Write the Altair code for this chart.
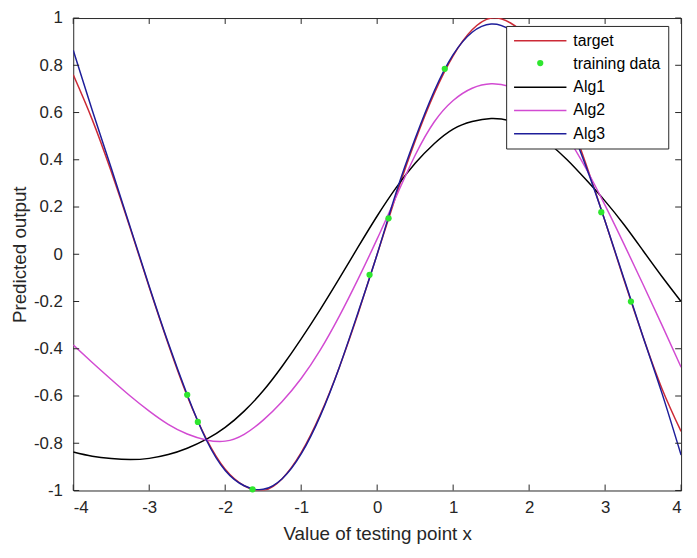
import altair as alt
import pandas as pd

# ---------------- data ----------------
x_grid = [-4.0, -3.75, -3.5, -3.25, -3.0, -2.75, -2.5, -2.25, -2.0, -1.75, -1.5,
          -1.25, -1.0, -0.75, -0.5, -0.25, 0.0, 0.25, 0.5, 0.75, 1.0, 1.25, 1.5,
          1.75, 2.0, 2.25, 2.5, 2.75, 3.0, 3.25, 3.5, 3.75, 4.0]

target = [0.76, 0.57, 0.35, 0.11, -0.14, -0.38, -0.60, -0.78, -0.91, -0.98, -1.00,
          -0.95, -0.84, -0.68, -0.48, -0.25, 0.00, 0.25, 0.48, 0.68, 0.84, 0.95, 1.00,
          0.98, 0.91, 0.78, 0.60, 0.38, 0.14, -0.11, -0.35, -0.57, -0.75]

alg1 = [-0.837, -0.855, -0.865, -0.869, -0.864, -0.848, -0.821, -0.784, -0.733, -0.664, -0.578,
        -0.474, -0.358, -0.234, -0.103, 0.031, 0.162, 0.282, 0.385, 0.468, 0.53, 0.562, 0.575,
        0.565, 0.53, 0.472, 0.40, 0.315, 0.225, 0.125, 0.015, -0.095, -0.20]

alg2 = [-0.384, -0.458, -0.53, -0.60, -0.664, -0.72, -0.761, -0.786, -0.791, -0.762, -0.702,
        -0.623, -0.526, -0.406, -0.263, -0.104, 0.065, 0.244, 0.419, 0.56, 0.651, 0.703, 0.722,
        0.71, 0.672, 0.602, 0.497, 0.362, 0.207, 0.042, -0.128, -0.301, -0.478]

alg3 = [0.864, 0.61, 0.365, 0.115, -0.135, -0.375, -0.595, -0.785, -0.915, -0.98, -0.995,
        -0.95, -0.845, -0.685, -0.48, -0.245, 0.0, 0.262, 0.49, 0.69, 0.845, 0.94, 0.975,
        0.95, 0.87, 0.745, 0.575, 0.37, 0.14, -0.105, -0.35, -0.59, -0.85]

train_x = [-2.50, -2.36, -1.64, -0.10, 0.15, 0.89, 2.95, 3.34]
train_y = [-0.595, -0.71, -0.995, -0.087, 0.152, 0.785, 0.178, -0.20]

x_ticks = [-4, -3, -2, -1, 0, 1, 2, 3, 4]
y_ticks = [-1, -0.8, -0.6, -0.4, -0.2, 0, 0.2, 0.4, 0.6, 0.8, 1]

series_names = ["target", "training data", "Alg1", "Alg2", "Alg3"]
line_colors = ["#cc2a36", "transparent", "#000000", "#d24bd2", "#1e1e9a"]
point_color = "#2ee62e"

# ---------------- tables ----------------
rows = []
for name, vals in [("target", target), ("Alg1", alg1), ("Alg2", alg2), ("Alg3", alg3)]:
    for xv, yv in zip(x_grid, vals):
        rows.append({"x": xv, "y": yv, "series": name})
lines_df = pd.DataFrame(rows)
train_df = pd.DataFrame({"x": train_x, "y": train_y, "series": "training data"})
xt_df = pd.DataFrame({"t": x_ticks})
yt_df = pd.DataFrame({"t": y_ticks})

W, H = 615, 478
TICK = 6
FONT = "Liberation Sans"
TXT = "#262626"

xscale = alt.Scale(domain=[-4, 4], nice=False, zero=False)
yscale = alt.Scale(domain=[-1, 1], nice=False, zero=False)

xaxis = alt.Axis(values=x_ticks, grid=False, ticks=False, domain=False,
                 labelFont=FONT, labelFontSize=17, labelColor=TXT, labelPadding=9,
                 labelExpr="toString(round(datum.value*10)/10)",
                 title="Value of testing point x", titleFont=FONT, titleFontSize=19,
                 titleFontWeight="normal", titleColor=TXT, titleY=44,
                 titleBaseline="middle")
yaxis = alt.Axis(values=y_ticks, grid=False, ticks=False, domain=False,
                 labelFont=FONT, labelFontSize=17, labelColor=TXT, labelPadding=11,
                 labelExpr="toString(round(datum.value*10)/10)",
                 title="Predicted output", titleFont=FONT, titleFontSize=19,
                 titleFontWeight="normal", titleColor=TXT, titleX=-54,
                 titleBaseline="middle")

legend = alt.Legend(
    orient="none", legendX=438, legendY=8, title=None,
    fillColor="white", strokeColor="#262626", padding=7,
    symbolType="stroke", symbolSize=2809, symbolStrokeWidth=1.5, clipHeight=16,
    labelFont=FONT, labelFontSize=16, labelColor="#000000", labelOffset=6,
    rowPadding=7.5, zindex=1,
)
dot_legend = alt.Legend(
    orient="none", legendX=469, legendY=42, title=None,
    symbolType="circle", symbolSize=40, symbolStrokeWidth=0, padding=0,
    labelExpr="''", labelFontSize=1, zindex=2,
)

color = alt.Color("series:N", scale=alt.Scale(domain=series_names, range=line_colors),
                  legend=legend)

base = alt.Chart(lines_df)


def curve(name):
    return base.transform_filter(alt.datum.series == name).mark_line(
        strokeWidth=1.5, interpolate="natural", clip=True
    ).encode(
        x=alt.X("x:Q", scale=xscale, axis=xaxis),
        y=alt.Y("y:Q", scale=yscale, axis=yaxis),
        color=color,
    )


points = alt.Chart(train_df).mark_circle(size=40, opacity=1).encode(
    x=alt.X("x:Q", scale=xscale),
    y=alt.Y("y:Q", scale=yscale),
    fill=alt.Fill("series:N", scale=alt.Scale(domain=["training data"], range=[point_color]),
                  legend=dot_legend),
)

tick_style = dict(color=TXT, strokeWidth=1)
xt_bottom = alt.Chart(xt_df).mark_rule(**tick_style).encode(
    x=alt.X("t:Q", scale=xscale), y=alt.value(H), y2=alt.value(H - TICK))
xt_top = alt.Chart(xt_df).mark_rule(**tick_style).encode(
    x=alt.X("t:Q", scale=xscale), y=alt.value(0), y2=alt.value(TICK))
yt_left = alt.Chart(yt_df).mark_rule(**tick_style).encode(
    y=alt.Y("t:Q", scale=yscale), x=alt.value(0), x2=alt.value(TICK))
yt_right = alt.Chart(yt_df).mark_rule(**tick_style).encode(
    y=alt.Y("t:Q", scale=yscale), x=alt.value(W), x2=alt.value(W - TICK))

chart = alt.layer(
    curve("target"), curve("Alg1"), curve("Alg2"), curve("Alg3"), points,
    xt_bottom, xt_top, yt_left, yt_right,
).properties(
    width=W, height=H,
    autosize=alt.AutoSizeParams(type="none"),
    padding={"left": 66, "top": 7, "right": 8, "bottom": 53},
    background="white",
).configure_view(stroke=TXT, strokeWidth=1)

chart.save("out.html", embed_options={"renderer": "svg", "actions": False})
